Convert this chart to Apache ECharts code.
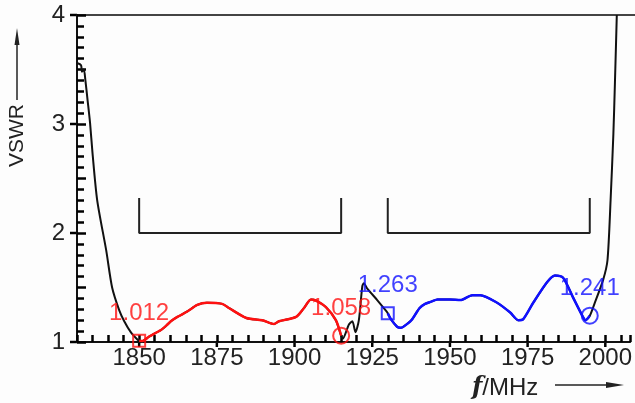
<!DOCTYPE html>
<html>
<head>
<meta charset="utf-8">
<script src="https://cdn.jsdelivr.net/npm/echarts@6/dist/echarts.min.js"></script>
<style>
  html, body { margin: 0; padding: 0; background: #fdfdfd; }
  #chart { width: 635px; height: 403px; }
</style>
</head>
<body>
<div id="chart"></div>
<script>
// black curve below the TX band
const freqLow = [1830, 1831.3, 1831.6, 1832.2, 1832.7, 1833.4, 1834.2, 1835.0, 1836.5, 1839.4, 1841.3, 1843.6, 1845.2, 1847.3, 1849.5];
const vswrLow = [3.56, 3.54, 3.48, 3.50, 3.40, 3.22, 3.01, 2.73, 2.30, 1.84, 1.50, 1.29, 1.19, 1.09, 1.02];
// TX band (red)
const freqTx = [1850, 1851.1, 1853.2, 1857.0, 1859.1, 1860.2, 1862.3, 1865.5, 1868.7, 1871.8, 1876.7, 1879.0, 1884.5, 1889.6, 1893.4, 1895.0, 1900.5, 1903.0, 1905.3, 1906.9, 1910.1, 1913.3, 1915];
const vswrTx = [1.012, 1.01, 1.05, 1.11, 1.16, 1.19, 1.23, 1.28, 1.34, 1.36, 1.35, 1.31, 1.22, 1.20, 1.165, 1.19, 1.23, 1.31, 1.39, 1.38, 1.32, 1.20, 1.058];
// gap between bands (black)
const freqMid = [1915.5, 1917.5, 1918.6, 1919.6, 1920.7, 1921.8, 1922.3, 1923.4, 1926.6, 1929.6];
const vswrMid = [1.03, 1.16, 1.19, 1.09, 1.20, 1.51, 1.54, 1.49, 1.385, 1.28];
// RX band (blue)
const freqRx = [1930, 1931, 1933, 1934, 1935, 1937.6, 1940.2, 1942, 1944, 1946, 1950, 1953.4, 1957.2, 1959.8, 1965.2, 1969.4, 1972, 1973.6, 1976.8, 1981.3, 1983.8, 1986.4, 1989.6, 1992.8, 1993.6, 1995];
const vswrRx = [1.263, 1.21, 1.14, 1.13, 1.14, 1.20, 1.31, 1.35, 1.37, 1.39, 1.39, 1.385, 1.43, 1.43, 1.36, 1.27, 1.20, 1.21, 1.36, 1.55, 1.61, 1.59, 1.41, 1.23, 1.20, 1.241];
// black curve above the RX band
const freqHigh = [1996.5, 1999.3, 2000.7, 2001.7, 2002.6, 2003.1, 2003.7];
const vswrHigh = [1.35, 1.57, 1.75, 2.30, 2.91, 3.38, 4.0];

// marked points
const markFreq = [1850, 1915, 1930, 1995];
const markVswr = [1.012, 1.058, 1.263, 1.241];

// spec brackets
const bandTx = [1850, 1915];
const bandRx = [1930, 1995];
const vswrLimit = 2;
const bracketTop = 2.32;

// axes
const xMin = 1830, xMax = 2008, xStep = 5;
const yMin = 1, yMax = 4;
const xTickLabels = [1850, 1875, 1900, 1925, 1950, 1975, 2000];
const yTickLabels = [1, 2, 3, 4];

const pairs = (f, v) => f.map((x, i) => [x, v[i]]);
const bracket = (b) => [[b[0], bracketTop], [b[0], vswrLimit], [b[1], vswrLimit], [b[1], bracketTop]];

const blackData = [].concat(
  pairs(freqLow, vswrLow), pairs(freqTx, vswrTx), pairs(freqMid, vswrMid),
  pairs(freqRx, vswrRx), pairs(freqHigh, vswrHigh)
);

const labelFont = { fontFamily: 'Liberation Sans, Arial, sans-serif', fontSize: 24 };

const markItem = (i, symbol, size, dist) => ({
  value: [markFreq[i], markVswr[i]],
  symbol: symbol,
  symbolSize: size,
  label: { distance: dist }
});

const chart = echarts.init(document.getElementById('chart'));
chart.setOption({
  animation: false,
  grid: { left: 77, right: 3, top: 15, bottom: 61 },
  xAxis: {
    type: 'value', min: xMin, max: xMax, interval: xStep,
    axisLine: { show: true, onZero: false, lineStyle: { color: '#111', width: 2 } },
    axisTick: { show: true, inside: true, length: 7, lineStyle: { color: '#000', width: 2.5 } },
    axisLabel: {
      show: true,
      formatter: (v) => (xTickLabels.indexOf(v) >= 0 ? String(v) : ''),
      color: '#222', margin: 4, ...labelFont
    },
    splitLine: { show: false }
  },
  yAxis: {
    type: 'value', min: yMin, max: yMax, interval: 0.5,
    axisLine: { show: true, onZero: false, lineStyle: { color: '#111', width: 2 } },
    axisTick: { show: true, inside: true, length: 9, lineStyle: { color: '#000', width: 2.5 } },
    minorTick: { show: true, splitNumber: 5, length: 7, lineStyle: { color: '#000', width: 2.5 } },
    axisLabel: {
      show: true, color: '#222', margin: 12, ...labelFont,
      formatter: (v) => (yTickLabels.indexOf(v) >= 0 ? String(v) : '')
    },
    splitLine: { show: false }
  },
  series: [
    {
      type: 'line', data: bracket(bandTx), symbol: 'none',
      lineStyle: { color: '#222', width: 2 }
    },
    {
      type: 'line', data: bracket(bandRx), symbol: 'none',
      lineStyle: { color: '#222', width: 2 }
    },
    {
      type: 'line', data: blackData, symbol: 'none', smooth: 0.25,
      lineStyle: { color: '#111', width: 2 }
    },
    {
      type: 'line', data: pairs(freqTx, vswrTx), symbol: 'none', smooth: 0.25,
      lineStyle: { color: '#ff1010', width: 2.5 }
    },
    {
      type: 'line', data: pairs(freqRx, vswrRx), symbol: 'none', smooth: 0.25,
      lineStyle: { color: '#1010ff', width: 2.5 }
    },
    {
      type: 'scatter',
      data: [markItem(0, 'rect', 12, 8), markItem(1, 'circle', 16, 6)],
      itemStyle: { color: 'rgba(0,0,0,0)', borderColor: '#ff1010', borderWidth: 2 },
      label: {
        show: true, position: 'top', color: '#ff1010', ...labelFont,
        formatter: (p) => p.value[1].toFixed(3)
      },
      z: 5
    },
    {
      type: 'scatter',
      data: [markItem(2, 'rect', 12, 9), markItem(3, 'circle', 16, 6)],
      itemStyle: { color: 'rgba(0,0,0,0)', borderColor: '#1010ff', borderWidth: 2 },
      label: {
        show: true, position: 'top', color: '#1010ff', ...labelFont,
        formatter: (p) => p.value[1].toFixed(3)
      },
      z: 5
    }
  ]
});

// frame top, axis titles and arrows
const topLeft = chart.convertToPixel({ gridIndex: 0 }, [xMin, yMax]);
const graphics = [
  {
    type: 'line', shape: { x1: topLeft[0], y1: topLeft[1], x2: 635, y2: topLeft[1] },
    style: { stroke: '#444', lineWidth: 2 }
  },
  {
    type: 'text', x: 7, y: 167, rotation: Math.PI / 2,
    style: { text: 'VSWR', fill: '#222', font: '21px Liberation Sans, Arial, sans-serif' }
  },
  {
    type: 'line', shape: { x1: 17, y1: 100, x2: 17, y2: 40 },
    style: { stroke: '#222', lineWidth: 1.5 }
  },
  {
    type: 'polygon', shape: { points: [[17, 28], [14.5, 45], [19.5, 45]] },
    style: { fill: '#222' }
  },
  {
    type: 'text', x: 472, y: 376,
    style: {
      text: '{f|f}{u|/MHz}',
      rich: {
        f: { font: 'italic bold 24px DejaVu Serif, serif', fill: '#222' },
        u: { font: '24px Liberation Sans, Arial, sans-serif', fill: '#222' }
      }
    }
  },
  {
    type: 'line', shape: { x1: 555, y1: 385, x2: 610, y2: 385 },
    style: { stroke: '#222', lineWidth: 1.5 }
  },
  {
    type: 'polygon', shape: { points: [[624, 385], [606, 382], [606, 388]] },
    style: { fill: '#222' }
  }
];

// outward stubs at the labelled ticks, placed through the chart's scales
xTickLabels.forEach((v) => {
  const p = chart.convertToPixel({ gridIndex: 0 }, [v, yMin]);
  graphics.push({
    type: 'line',
    shape: { x1: p[0], y1: p[1], x2: p[0], y2: p[1] + 5 },
    style: { stroke: '#000', lineWidth: 2.5 }
  });
});
yTickLabels.forEach((v) => {
  const p = chart.convertToPixel({ gridIndex: 0 }, [xMin, v]);
  graphics.push({
    type: 'line',
    shape: { x1: p[0] - 7, y1: p[1], x2: p[0], y2: p[1] },
    style: { stroke: '#000', lineWidth: 2.5 }
  });
});

chart.setOption({ graphic: graphics });
</script>
</body>
</html>
